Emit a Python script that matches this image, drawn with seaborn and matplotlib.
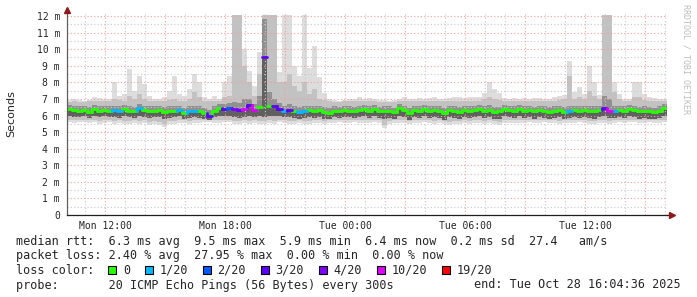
import numpy as np
import pandas as pd
import matplotlib
matplotlib.use("Agg")
import matplotlib.pyplot as plt
from matplotlib.patches import Rectangle
import seaborn as sns

# ---------------- data ----------------
start_h = 10 + 4 / 60 + 36 / 3600      # Mon 10:04:36, hours since Mon 00:00
span_h = 30.0
step_h = 0.25                           # one value per 15 minutes

# median rtt (ms)
med = [6.40, 6.35, 6.25, 6.35, 6.20, 6.40, 6.30, 6.35, 6.30, 6.35,
       6.25, 6.40, 6.30, 6.25, 6.45, 6.35, 6.30, 6.30, 6.35, 6.20,
       6.25, 6.30, 6.35, 6.15, 6.25, 6.30, 6.25, 6.15, 5.95, 6.30,
       6.45, 6.40, 6.45, 6.40, 6.35, 6.40, 6.65, 6.35, 6.50, 9.50,
       6.60, 6.55, 6.40, 6.30, 6.35, 6.30, 6.20, 6.25, 6.35, 6.30,
       6.35, 6.20, 6.15, 6.30, 6.25, 6.35, 6.30, 6.25, 6.35, 6.40,
       6.30, 6.40, 6.25, 6.30, 6.30, 6.20, 6.45, 6.35, 6.15, 6.35,
       6.30, 6.40, 6.25, 6.35, 6.30, 6.15, 6.35, 6.30, 6.20, 6.35,
       6.25, 6.35, 6.40, 6.30, 6.35, 6.20, 6.25, 6.40, 6.35, 6.30,
       6.40, 6.30, 6.35, 6.25, 6.35, 6.30, 6.20, 6.30, 6.35, 6.20,
       6.30, 6.35, 6.30, 6.35, 6.30, 6.25, 6.35, 6.45, 6.25, 6.30,
       6.35, 6.30, 6.40, 6.35, 6.25, 6.30, 6.25, 6.20, 6.30, 6.45]

# pings lost out of 20
loss = [0, 0, 0, 0, 0, 0, 0, 0, 0, 1,
        1, 0, 0, 0, 1, 0, 0, 0, 0, 0,
        0, 0, 1, 0, 1, 1, 0, 0, 3, 0,
        0, 3, 2, 4, 3, 10, 3, 10, 0, 3,
        0, 3, 3, 1, 3, 0, 1, 1, 0, 0,
        0, 0, 0, 0, 0, 0, 0, 0, 0, 0,
        0, 0, 0, 0, 0, 0, 0, 0, 0, 0,
        0, 0, 0, 0, 0, 0, 0, 0, 0, 0,
        0, 0, 0, 0, 0, 0, 0, 0, 0, 0,
        0, 0, 0, 0, 0, 0, 0, 0, 0, 0,
        1, 0, 0, 0, 0, 0, 0, 3, 10, 1,
        0, 0, 0, 0, 0, 0, 0, 0, 0, 0]

# smoke: max ping
hi = [6.95, 7.00, 6.95, 6.90, 6.95, 7.10, 7.05, 7.00, 7.00, 8.00,
      7.20, 7.30, 8.80, 7.50, 8.40, 7.90, 7.20, 7.00, 7.00, 7.10,
      7.50, 8.40, 7.30, 7.20, 7.60, 8.50, 8.00, 7.10, 7.00, 7.20,
      7.00, 8.00, 8.40, 12.05, 12.05, 10.0, 8.70, 7.80, 9.80, 12.05,
      12.05, 12.05, 8.60, 12.05, 12.05, 9.00, 8.40, 12.05, 8.85, 10.2,
      8.30, 7.35, 7.00, 6.95, 6.90, 6.95, 7.00, 7.00, 7.10, 7.00,
      7.05, 7.00, 6.95, 6.95, 6.90, 6.95, 7.00, 7.10, 7.00, 7.00,
      7.05, 7.00, 7.05, 7.10, 7.00, 7.00, 7.05, 7.10, 7.10, 7.05,
      7.10, 7.10, 7.10, 7.35, 8.00, 7.60, 7.35, 7.05, 7.00, 7.05,
      7.00, 7.05, 7.00, 7.05, 7.05, 7.00, 7.00, 7.10, 7.20, 7.25,
      9.30, 7.40, 7.70, 7.30, 9.00, 8.00, 7.25, 12.05, 12.05, 8.00,
      7.30, 7.00, 7.00, 8.00, 8.00, 7.30, 7.10, 7.05, 7.00, 7.00]

# smoke: upper edge of the medium grey
hi2 = [6.80, 6.85, 6.80, 6.80, 6.85, 6.90, 6.85, 6.85, 6.85, 7.00,
       6.95, 6.90, 7.20, 7.00, 7.30, 7.00, 6.90, 6.85, 6.85, 6.85,
       6.95, 7.00, 6.90, 6.85, 7.00, 7.40, 7.10, 6.90, 6.85, 6.90,
       6.85, 7.10, 7.20, 12.05, 12.05, 9.00, 8.00, 7.20, 8.50, 12.05,
       12.05, 12.05, 8.00, 8.00, 8.50, 7.80, 7.50, 8.00, 7.30, 7.60,
       7.00, 6.95, 6.85, 6.80, 6.80, 6.85, 6.85, 6.85, 6.90, 6.85,
       6.85, 6.85, 6.80, 6.80, 6.80, 6.80, 6.85, 6.90, 6.85, 6.85,
       6.85, 6.85, 6.85, 6.90, 6.85, 6.85, 6.85, 6.90, 6.90, 6.85,
       6.90, 6.90, 6.90, 7.00, 7.10, 7.00, 6.95, 6.85, 6.85, 6.85,
       6.85, 6.85, 6.85, 6.85, 6.85, 6.85, 6.85, 6.90, 6.95, 7.00,
       8.40, 7.00, 7.10, 7.00, 7.50, 7.20, 7.00, 12.05, 12.05, 7.40,
       7.00, 6.85, 6.85, 7.10, 7.10, 6.95, 6.90, 6.85, 6.85, 6.85]

# smoke: upper edge of the dark core
q_hi = [6.65, 6.60, 6.55, 6.60, 6.50, 6.65, 6.55, 6.60, 6.55, 6.60,
        6.55, 6.65, 6.55, 6.50, 6.70, 6.60, 6.55, 6.55, 6.60, 6.50,
        6.55, 6.55, 6.60, 6.45, 6.55, 6.60, 6.55, 6.45, 6.35, 6.55,
        6.70, 6.70, 6.75, 6.80, 6.75, 7.00, 7.00, 6.70, 7.20, 11.80,
        7.40, 7.00, 6.75, 6.60, 6.70, 6.60, 6.50, 6.60, 6.60, 6.60,
        6.60, 6.50, 6.45, 6.55, 6.50, 6.60, 6.55, 6.50, 6.60, 6.65,
        6.55, 6.65, 6.50, 6.55, 6.55, 6.45, 6.70, 6.60, 6.45, 6.60,
        6.55, 6.65, 6.55, 6.60, 6.55, 6.45, 6.60, 6.55, 6.50, 6.60,
        6.55, 6.60, 6.65, 6.60, 6.65, 6.50, 6.50, 6.65, 6.60, 6.55,
        6.65, 6.55, 6.60, 6.50, 6.60, 6.55, 6.50, 6.55, 6.60, 6.50,
        6.60, 6.60, 6.55, 6.60, 6.60, 6.55, 6.60, 7.20, 7.00, 6.60,
        6.60, 6.55, 6.65, 6.60, 6.50, 6.55, 6.50, 6.45, 6.55, 6.70]

# smoke: lower edge of the dark core
q_lo = [5.95, 5.90, 5.90, 5.95, 5.85, 5.95, 5.90, 5.95, 5.90, 5.90,
        5.85, 5.95, 5.90, 5.85, 5.95, 5.90, 5.85, 5.90, 5.90, 5.80,
        5.85, 5.90, 5.95, 5.80, 5.85, 5.90, 5.85, 5.80, 5.70, 5.90,
        6.00, 5.95, 5.95, 5.90, 5.85, 5.90, 6.00, 5.90, 5.95, 5.90,
        6.00, 6.00, 5.95, 5.90, 5.90, 5.85, 5.80, 5.85, 5.90, 5.85,
        5.90, 5.80, 5.80, 5.90, 5.85, 5.90, 5.90, 5.85, 5.90, 5.95,
        5.85, 5.95, 5.85, 5.80, 5.85, 5.80, 5.95, 5.90, 5.75, 5.90,
        5.85, 5.95, 5.85, 5.90, 5.85, 5.75, 5.90, 5.85, 5.80, 5.90,
        5.85, 5.90, 5.95, 5.85, 5.90, 5.80, 5.80, 5.95, 5.90, 5.85,
        5.95, 5.85, 5.90, 5.80, 5.90, 5.85, 5.80, 5.85, 5.90, 5.80,
        5.85, 5.90, 5.85, 5.90, 5.85, 5.80, 5.90, 5.95, 5.85, 5.85,
        5.90, 5.85, 5.95, 5.90, 5.80, 5.85, 5.80, 5.80, 5.85, 6.00]

# smoke: lower edge of the medium grey
lo2 = [5.75, 5.70, 5.75, 5.75, 5.70, 5.75, 5.65, 5.70, 5.75, 5.65,
       5.70, 5.65, 5.65, 5.70, 5.65, 5.70, 5.60, 5.65, 5.60, 5.50,
       5.65, 5.65, 5.70, 5.70, 5.65, 5.70, 5.70, 5.75, 5.75, 5.70,
       5.70, 5.75, 5.75, 5.65, 5.65, 5.70, 5.65, 5.70, 5.65, 5.65,
       5.70, 5.65, 5.75, 5.70, 5.65, 5.65, 5.70, 5.65, 5.65, 5.70,
       5.70, 5.65, 5.70, 5.70, 5.75, 5.70, 5.70, 5.75, 5.70, 5.70,
       5.70, 5.75, 5.70, 5.45, 5.65, 5.70, 5.70, 5.70, 5.65, 5.70,
       5.70, 5.75, 5.70, 5.65, 5.70, 5.65, 5.60, 5.65, 5.65, 5.70,
       5.65, 5.70, 5.70, 5.65, 5.70, 5.65, 5.60, 5.70, 5.70, 5.70,
       5.70, 5.70, 5.75, 5.70, 5.70, 5.75, 5.70, 5.70, 5.65, 5.70,
       5.70, 5.70, 5.75, 5.70, 5.65, 5.65, 5.70, 5.70, 5.65, 5.70,
       5.75, 5.70, 5.75, 5.75, 5.70, 5.70, 5.75, 5.70, 5.70, 5.75]

# smoke: min ping
lo = [5.60, 5.55, 5.60, 5.60, 5.55, 5.60, 5.50, 5.55, 5.60, 5.50,
      5.55, 5.50, 5.50, 5.55, 5.50, 5.55, 5.45, 5.50, 5.45, 5.30,
      5.50, 5.50, 5.55, 5.55, 5.50, 5.55, 5.55, 5.60, 5.60, 5.55,
      5.55, 5.60, 5.60, 5.50, 5.50, 5.55, 5.50, 5.55, 5.50, 5.50,
      5.55, 5.50, 5.60, 5.55, 5.50, 5.50, 5.55, 5.50, 5.50, 5.55,
      5.55, 5.50, 5.55, 5.55, 5.60, 5.55, 5.55, 5.60, 5.55, 5.55,
      5.55, 5.60, 5.55, 5.25, 5.50, 5.55, 5.55, 5.55, 5.50, 5.55,
      5.55, 5.60, 5.55, 5.50, 5.55, 5.50, 5.45, 5.50, 5.50, 5.55,
      5.50, 5.55, 5.55, 5.50, 5.55, 5.50, 5.45, 5.55, 5.55, 5.55,
      5.55, 5.55, 5.60, 5.55, 5.55, 5.60, 5.55, 5.55, 5.50, 5.55,
      5.55, 5.55, 5.60, 5.55, 5.50, 5.50, 5.55, 5.55, 5.50, 5.55,
      5.60, 5.55, 5.60, 5.60, 5.55, 5.55, 5.60, 5.55, 5.55, 5.60]

tick_hours = [12, 15, 18, 21, 24, 27, 30, 33, 36, 39]
tick_labels = ["Mon 12:00", "", "Mon 18:00", "", "Tue 00:00", "",
               "Tue 06:00", "", "Tue 12:00", ""]
ytick_vals = [0, 1, 2, 3, 4, 5, 6, 7, 8, 9, 10, 11, 12]
ytick_labels = ["0", "1 m", "2 m", "3 m", "4 m", "5 m", "6 m", "7 m",
                "8 m", "9 m", "10 m", "11 m", "12 m"]

loss_counts = [0, 1, 2, 3, 4, 10, 19]
loss_labels = ["0", "1/20", "2/20", "3/20", "4/20", "10/20", "19/20"]
loss_colors = ["#26ff00", "#00b8ff", "#0059ff", "#5e00ff", "#7e00ff",
               "#dd00ff", "#ff0000"]

line_rtt = "median rtt:  6.3 ms avg  9.5 ms max  5.9 ms min  6.4 ms now  0.2 ms sd  27.4   am/s"
line_loss = "packet loss: 2.40 % avg  27.95 % max  0.00 % min  0.00 % now"
line_color = "loss color:"
line_probe = "probe:       20 ICMP Echo Pings (56 Bytes) every 300s"
line_end = "end: Tue Oct 28 16:04:36 2025"

# ---------------- drawing ----------------
sns.set_style("white")
plt.rcParams["font.family"] = ["DejaVu Sans"]
MONO = "DejaVu Sans Mono"

W, H = 697, 297
fig = plt.figure(figsize=(W / 100, H / 100), dpi=100)
fig.patch.set_facecolor("white")
ax = fig.add_axes([67 / W, (H - 215) / H, 600 / W, (215 - 12.7) / H])
ax.set_facecolor("white")

n = len(med)
edges = start_h + step_h * np.arange(n + 1)


def ext(a):
    a = np.asarray(a, dtype=float)
    return np.append(a, a[-1])


ax.fill_between(edges, ext(lo), ext(hi), step="post", color="#dddddd", lw=0, zorder=1.0)
ax.fill_between(edges, ext(lo2), ext(hi2), step="post", color="#c2c2c2", lw=0, zorder=1.1)
ax.fill_between(edges, ext(q_lo), ext(q_hi), step="post", color="#909090", lw=0, zorder=1.2)
ax.fill_between(edges, ext(q_lo), ext(med), step="post", color="#606060", lw=0, zorder=1.3)

# median, coloured by loss (seaborn line segments)
lab_of = dict(zip(loss_counts, loss_labels))
rows = []
seg = 0
for i in range(n):
    lbl = lab_of[loss[i]]
    rows.append((edges[i], med[i], seg, lbl))
    rows.append((edges[i + 1], med[i], seg, lbl))
    seg += 1
    if i + 1 < n and abs(med[i + 1] - med[i]) < 1.5:
        lbl2 = lab_of[loss[i + 1]]
        rows.append((edges[i + 1], med[i], seg, lbl2))
        rows.append((edges[i + 1], med[i + 1], seg, lbl2))
        seg += 1
df = pd.DataFrame(rows, columns=["t", "rtt", "seg", "loss"])
sns.lineplot(data=df, x="t", y="rtt", units="seg", estimator=None, hue="loss",
             palette=dict(zip(loss_labels, loss_colors)), legend=False,
             sort=False, lw=2.0, ax=ax, zorder=3)

ax.set_xlim(start_h, start_h + span_h)
ax.set_ylim(0, 12.2)
ax.set_xticks(tick_hours)
ax.set_xticklabels(tick_labels)
ax.set_xticks(np.arange(11, 41, 1), minor=True)
ax.set_yticks(ytick_vals)
ax.set_yticklabels(ytick_labels)
ax.set_yticks(np.arange(0.5, 12.5, 1.0), minor=True)
ax.set_xlabel("")
ax.set_ylabel("")

ax.set_axisbelow(False)
ax.grid(which="major", color="#f2a0a0", ls=(0, (1, 2)), lw=0.8, zorder=2.5)
ax.grid(which="minor", color="#c8c8c8", ls=(0, (1, 2)), lw=0.8, zorder=2.4)

for s in ("top", "right"):
    ax.spines[s].set_visible(False)
ax.spines["left"].set_color("#606060")
ax.spines["left"].set_linewidth(0.9)
ax.spines["bottom"].set_color("#202020")
ax.spines["bottom"].set_linewidth(0.9)
ax.spines["left"].set_zorder(4)
ax.spines["bottom"].set_zorder(4)

ax.tick_params(axis="both", which="major", length=2, width=0.7, color="#909090",
               labelsize=7, pad=2)
ax.tick_params(axis="both", which="minor", length=0)
ax.tick_params(axis="y", pad=3)
for t in ax.get_xticklabels() + ax.get_yticklabels():
    t.set_fontfamily(MONO)

# axis arrows
ax.plot([1.0, 1.007], [0, 0], transform=ax.transAxes, color="#202020", lw=0.9,
        clip_on=False, zorder=4)
ax.plot([1.009], [0], transform=ax.transAxes, marker=">", ms=4.2, color="#8b1a1a",
        mec="#8b1a1a", clip_on=False, zorder=5)
ax.plot([0], [1.012], transform=ax.transAxes, marker="^", ms=4.2, color="#8b1a1a",
        mec="#8b1a1a", clip_on=False, zorder=5)

# labels around the plot
fig.text(11 / W, 1 - 113.5 / H, "Seconds", rotation=90, ha="center", va="center",
         fontsize=8, family="DejaVu Sans")
fig.text(686 / W, 1 - 4 / H, "RRDTOOL / TOBI OETIKER", rotation=270, ha="center",
         va="top", fontsize=6, family=MONO, color="#bdbdbd")

# legend / statistics block
FS = 8.5
fig.text(16 / W, 1 - 242 / H, line_rtt, ha="left", va="center", fontsize=FS, family=MONO)
fig.text(16 / W, 1 - 256 / H, line_loss, ha="left", va="center", fontsize=FS, family=MONO)
fig.text(16 / W, 1 - 270 / H, line_color, ha="left", va="center", fontsize=FS, family=MONO)
fig.text(16 / W, 1 - 285 / H, line_probe, ha="left", va="center", fontsize=FS, family=MONO)
fig.text(681 / W, 1 - 285 / H, line_end, ha="right", va="center", fontsize=FS, family=MONO)

cw = 7.1
bx = 108.0
for lbl, col in zip(loss_labels, loss_colors):
    fig.patches.append(Rectangle((bx / W, 1 - 274 / H), 8 / W, 8 / H,
                                 transform=fig.transFigure, facecolor=col,
                                 edgecolor="black", lw=0.8))
    lx = bx + 14.8
    fig.text(lx / W, 1 - 270 / H, lbl, ha="left", va="center", fontsize=FS, family=MONO)
    bx = lx + len(lbl) * cw + 14.8

fig.savefig("out.png", dpi=100, facecolor="white")
